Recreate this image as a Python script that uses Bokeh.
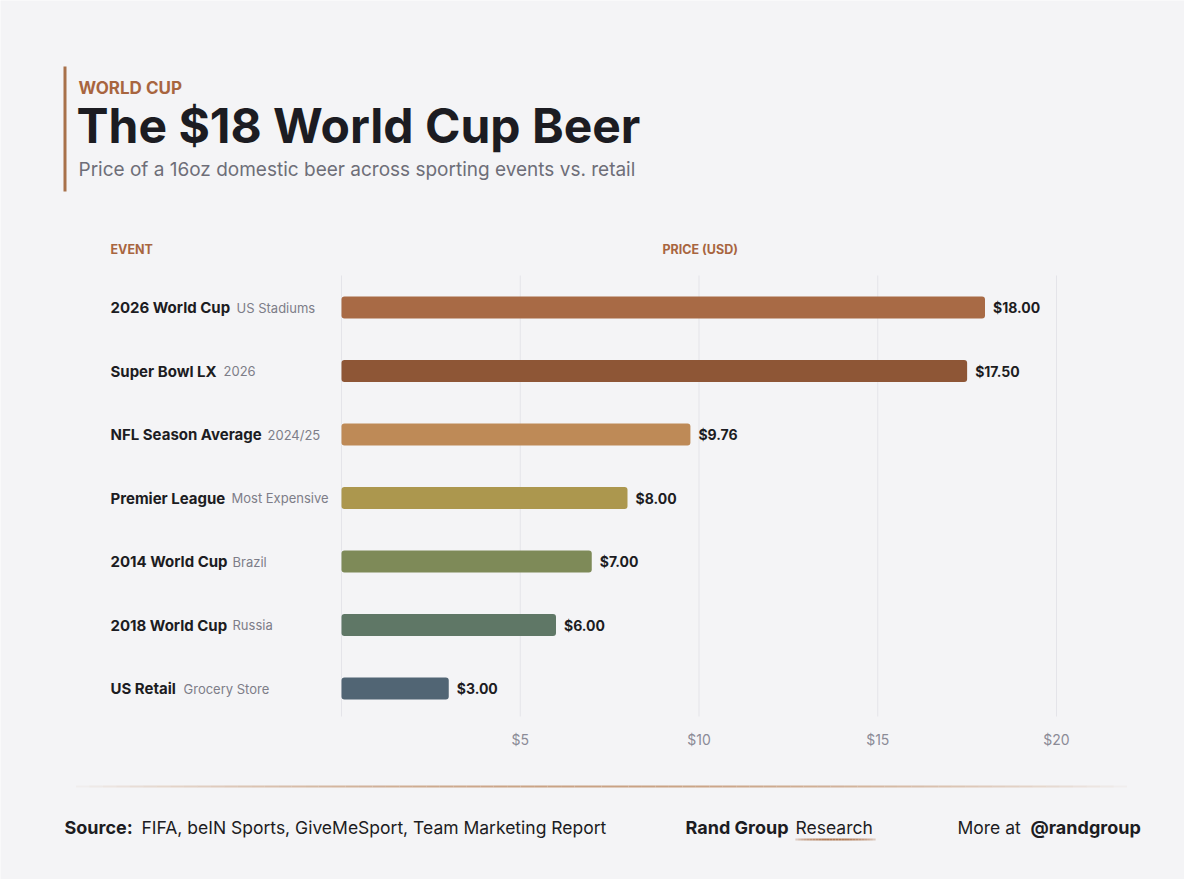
from bokeh.plotting import figure
from bokeh.models import Range1d
from bokeh.core.properties import value
from bokeh.embed import file_html
from bokeh.resources import INLINE
import numpy as np

# ---------------- data ----------------
events = ["2026 World Cup", "Super Bowl LX", "NFL Season Average", "Premier League",
          "2014 World Cup", "2018 World Cup", "US Retail"]
details = ["US Stadiums", "2026", "2024/25", "Most Expensive", "Brazil", "Russia", "Grocery Store"]
prices = [18.00, 17.50, 9.76, 8.00, 7.00, 6.00, 3.00]
bar_colors = ["#A86A45", "#8E5636", "#BE8A57", "#AC974E", "#7E8A58", "#5F7766", "#516574"]
tick_values = [5, 10, 15, 20]
tick_labels = ["$5", "$10", "$15", "$20"]

# ---------------- layout (pixels) ----------------
W, H = 1184, 879
X0 = 341          # pixel of $0
PX_PER = 35.75    # pixels per dollar
ROW0, STEP = 307, 63.5
BAR_H = 22
DETAIL_X = [236, 223, 267, 231, 232, 232, 183]
BG = "#F4F4F6"
DARK = "#1C1C22"
ACCENT = "#A8653F"
FONT = value("Inter")

rows = [ROW0 + i * STEP for i in range(len(events))]

p = figure(width=W, height=H,
           x_range=Range1d(-X0 / PX_PER, (W - X0) / PX_PER),
           y_range=Range1d(H, 0),
           output_backend="svg", toolbar_location=None, min_border=0,
           x_axis_location=None, y_axis_location=None,
           background_fill_color=BG, border_fill_color=BG, outline_line_color=None)
p.grid.visible = False
p.extra_x_ranges = {"px": Range1d(0, W)}

# grid lines
grid_x = [0] + tick_values
p.segment(x0=grid_x, y0=[275] * len(grid_x), x1=grid_x, y1=[716] * len(grid_x),
          line_color="#E4E4E9", line_width=1)

# bars
p.hbar(y=rows, left=0, right=prices, height=BAR_H, fill_color=bar_colors,
       line_color=None, border_radius=3)

# value labels
p.text(x=prices, y=rows, text=[f"${v:.2f}" for v in prices], x_offset=8,
       text_baseline="middle", text_align="left", text_font=FONT,
       text_font_style="bold", text_font_size="14px", text_color=DARK)

# tick labels
p.text(x=tick_values, y=[739] * len(tick_values), text=tick_labels,
       text_baseline="middle", text_align="center", text_font=FONT,
       text_font_size="14px", text_color="#8B8B96")

# event labels
p.text(x=[110] * len(events), y=rows, text=events, x_range_name="px",
       text_baseline="middle", text_font=FONT, text_font_style="bold",
       text_font_size="15px", text_color=DARK)
p.text(x=DETAIL_X, y=rows, text=details, x_range_name="px",
       text_baseline="middle", text_font=FONT,
       text_font_size="13px", text_color="#7D7D88")

# column headers
p.text(x=[110, 662], y=[249, 249], text=["EVENT", "PRICE (USD)"], x_range_name="px",
       text_baseline="middle", text_font=FONT, text_font_style="bold",
       text_font_size="12.5px", text_color=ACCENT)

# header block
p.quad(left=[63], right=[66], top=[66], bottom=[191], x_range_name="px",
       fill_color="#A8714A", line_color=None)
p.text(x=[78], y=[87], text=["WORLD CUP"], x_range_name="px",
       text_baseline="middle", text_font=FONT, text_font_style="bold",
       text_font_size="17px", text_color=ACCENT)
p.text(x=[76], y=[124.5], text=["The $18 World Cup Beer"], x_range_name="px",
       text_baseline="middle", text_font=FONT, text_font_style="bold",
       text_font_size="48px", text_color=DARK)
p.text(x=[78], y=[168.5], text=["Price of a 16oz domestic beer across sporting events vs. retail"],
       x_range_name="px", text_baseline="middle", text_font=FONT,
       text_font_size="19px", text_color="#6E6E78")

# footer separator (fading line)
n = 80
xs = np.linspace(62, 1140, n + 1)
alphas = np.sin(np.linspace(0, np.pi, n)) ** 0.8
p.segment(x0=xs[:-1], y0=[786] * n, x1=xs[1:], y1=[786] * n, x_range_name="px",
          line_color="#C9A284", line_alpha=alphas, line_width=2)

# footer texts
fy = 827
p.text(x=[64, 685, 1030], y=[fy] * 3, text=["Source:", "Rand Group", "@randgroup"],
       x_range_name="px", text_baseline="middle", text_font=FONT,
       text_font_style="bold", text_font_size="18px", text_color=DARK)
p.text(x=[141, 795, 957], y=[fy] * 3,
       text=["FIFA, beIN Sports, GiveMeSport, Team Marketing Report", "Research", "More at"],
       x_range_name="px", text_baseline="middle", text_font=FONT,
       text_font_size="17.5px", text_color=DARK)
m = 30
ux = np.linspace(792, 878, m + 1)
ua = np.sin(np.linspace(0, np.pi, m)) ** 0.5
p.segment(x0=ux[:-1], y0=[839] * m, x1=ux[1:], y1=[839] * m, x_range_name="px",
          line_color="#B07A55", line_alpha=ua, line_width=2)

html = file_html(p, INLINE)
html = html.replace("<body>", '<body style="background:%s;">' % BG, 1)
open("out.html", "w").write(html)
